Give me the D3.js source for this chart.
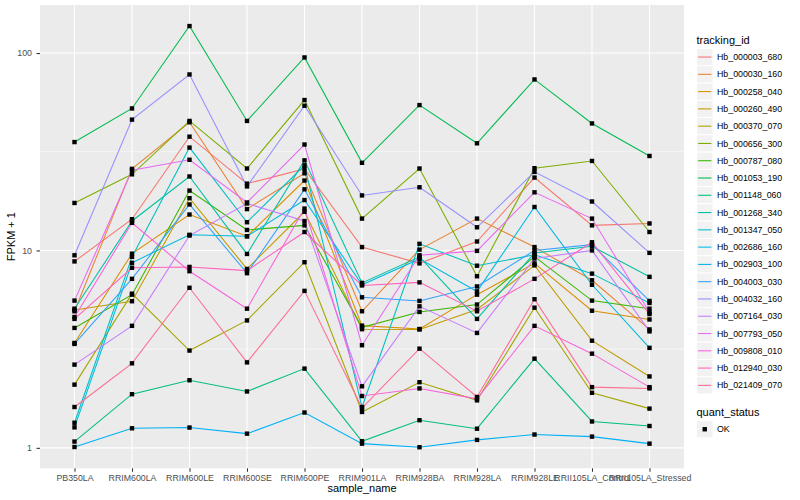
<!DOCTYPE html>
<html>
<head>
<meta charset="utf-8">
<script src="https://cdn.jsdelivr.net/npm/d3@7"></script>
<style>
  body { margin: 0; background: #fff; }
  text { font-family: "Liberation Sans", Arial, Helvetica, sans-serif; }
</style>
</head>
<body>
<div id="chart"></div>
<script>
// sample names on the x axis
const samples = ["PB350LA", "RRIM600LA", "RRIM600LE", "RRIM600SE", "RRIM600PE", "RRIM901LA",
  "RRIM928BA", "RRIM928LA", "RRIM928LE", "RRII105LA_Control", "RRII105LA_Stressed"];

const trackingIds = ["Hb_000003_680", "Hb_000030_160", "Hb_000258_040", "Hb_000260_490", "Hb_000370_070",
  "Hb_000656_300", "Hb_000787_080", "Hb_001053_190", "Hb_001148_060", "Hb_001268_340",
  "Hb_001347_050", "Hb_002686_160", "Hb_002903_100", "Hb_004003_030", "Hb_004032_160",
  "Hb_007164_030", "Hb_007793_050", "Hb_009808_010", "Hb_012940_030", "Hb_021409_070"];

// FPKM + 1, one array per gene, in sample order
const hb000003_680 = [8.8, 14.4, 37.7, 21.8, 25.9, 10.4, 8.6, 11.1, 23.4, 13.4, 13.7];
const hb000030_160 = [4.92, 25.9, 44.6, 16.2, 24.6, 4.92, 10.1, 14.5, 10.4, 7.06, 3.98];
const hb000258_040 = [3.40, 9.63, 15.2, 11.8, 22.6, 4.16, 4.0, 5.97, 8.6, 4.95, 4.47];
const hb000260_490 = [4.99, 5.53, 18.4, 8.06, 15.7, 3.99, 3.98, 5.02, 8.4, 3.49, 2.30];
const hb000370_070 = [2.09, 6.04, 3.11, 4.42, 8.72, 1.52, 2.15, 1.74, 5.13, 1.9, 1.58];
const hb000656_300 = [17.4, 24.3, 45.3, 26.0, 57.8, 14.5, 26.0, 7.4, 26.1, 28.4, 12.4];
const hb000787_080 = [4.05, 5.97, 20.1, 12.7, 13.4, 4.08, 4.88, 5.32, 9.3, 5.57, 5.07];
const hb001053_190 = [35.4, 52.4, 137, 45.3, 95, 27.8, 54.5, 34.9, 73.5, 44, 30.1];
const hb001148_060 = [1.076, 1.87, 2.20, 1.93, 2.52, 1.08, 1.38, 1.25, 2.83, 1.36, 1.29];
const hb001268_340 = [5.07, 14.1, 23.7, 9.6, 28.6, 6.85, 9.28, 4.5, 9.7, 10.5, 7.35];
const hb001347_050 = [1.34, 9.28, 33.2, 13.9, 27.0, 1.61, 10.8, 8.37, 9.5, 7.63, 5.42];
const hb002686_160 = [1.27, 8.66, 12.0, 11.8, 18.0, 6.7, 9.06, 6.2, 16.6, 6.7, 3.21];
const hb002903_100 = [1.01, 1.256, 1.267, 1.18, 1.51, 1.05, 1.007, 1.097, 1.168, 1.14, 1.05];
const hb004003_030 = [3.36, 7.18, 17.1, 7.67, 20.4, 5.79, 5.55, 6.57, 10.0, 10.7, 5.55];
const hb004032_160 = [9.45, 46, 77.9, 21.1, 54.1, 19.0, 20.9, 13.1, 25.0, 17.7, 9.72];
const hb007164_030 = [2.64, 4.15, 11.9, 17.3, 14.1, 2.05, 5.21, 3.82, 9.1, 10.0, 3.89];
const hb007793_050 = [5.57, 25.5, 28.8, 17.5, 34.4, 3.31, 9.45, 9.95, 19.7, 14.5, 4.86];
const hb009808_010 = [4.6, 13.8, 7.85, 5.07, 16.3, 1.83, 2.0, 1.77, 4.15, 3.0, 2.03];
const hb012940_030 = [4.5, 8.17, 8.25, 7.9, 12.4, 6.65, 6.89, 4.92, 7.18, 11.0, 4.76];
const hb021409_070 = [1.61, 2.68, 6.47, 2.71, 6.24, 1.59, 3.18, 1.81, 5.66, 2.03, 2.0];

const yTicks = [1, 10, 100];
const yTickLabels = ["1", "10", "100"];

const seriesValues = [hb000003_680, hb000030_160, hb000258_040, hb000260_490, hb000370_070,
  hb000656_300, hb000787_080, hb001053_190, hb001148_060, hb001268_340,
  hb001347_050, hb002686_160, hb002903_100, hb004003_030, hb004032_160,
  hb007164_030, hb007793_050, hb009808_010, hb012940_030, hb021409_070];

// ggplot default hue palette for 20 levels
const palette = ["#F8766D", "#EA8331", "#D89000", "#C09B00", "#A3A500", "#7CAE00", "#39B600", "#00BB4E",
  "#00BF7D", "#00C1A3", "#00BFC4", "#00BAE0", "#00B0F6", "#35A2FF", "#9590FF", "#C77CFF",
  "#E76BF3", "#FA62DB", "#FF62BC", "#FF6C91"];

const series = trackingIds.map((id, i) => ({
  id,
  values: samples.map((s, j) => ({ sample: s, v: seriesValues[i][j] }))
}));

const W = 800, H = 500;
const panel = { left: 40, top: 5, right: 684, bottom: 468.3 };

const svg = d3.select('#chart').append('svg')
  .attr('width', W).attr('height', H);

const x = d3.scalePoint()
  .domain(samples)
  .range([panel.left, panel.right])
  .padding(0.6);

const allVals = seriesValues.flat();
const lo = Math.log10(d3.min(allVals)), hi = Math.log10(d3.max(allVals));
const pad = (hi - lo) * 0.05;
const y = d3.scaleLog()
  .domain([Math.pow(10, lo - pad), Math.pow(10, hi + pad)])
  .range([panel.bottom, panel.top]);

const color = d3.scaleOrdinal().domain(trackingIds).range(palette);

// panel background
svg.append('rect')
  .attr('x', panel.left).attr('y', panel.top)
  .attr('width', panel.right - panel.left).attr('height', panel.bottom - panel.top)
  .attr('fill', '#EBEBEB');

// minor grid at half decades
const minor = [Math.sqrt(10), Math.sqrt(1000)];
svg.append('g').selectAll('line').data(minor).enter().append('line')
  .attr('x1', panel.left).attr('x2', panel.right)
  .attr('y1', d => y(d)).attr('y2', d => y(d))
  .attr('stroke', '#fff').attr('stroke-width', 0.55);

svg.append('g').selectAll('line').data(yTicks).enter().append('line')
  .attr('x1', panel.left).attr('x2', panel.right)
  .attr('y1', d => y(d)).attr('y2', d => y(d))
  .attr('stroke', '#fff').attr('stroke-width', 1.1);

svg.append('g').selectAll('line').data(samples).enter().append('line')
  .attr('x1', d => x(d)).attr('x2', d => x(d))
  .attr('y1', panel.top).attr('y2', panel.bottom)
  .attr('stroke', '#fff').attr('stroke-width', 1.1);

// lines
const line = d3.line().x(d => x(d.sample)).y(d => y(d.v));
svg.append('g').selectAll('path').data(series).enter().append('path')
  .attr('d', d => line(d.values))
  .attr('fill', 'none')
  .attr('stroke', d => color(d.id))
  .attr('stroke-width', 1.07);

// points
const pts = series.flatMap(s => s.values);
svg.append('g').selectAll('rect').data(pts).enter().append('rect')
  .attr('x', d => x(d.sample) - 2.2).attr('y', d => y(d.v) - 2.2)
  .attr('width', 4.4).attr('height', 4.4)
  .attr('fill', '#000');

// axes
const yAxis = svg.append('g')
  .attr('transform', `translate(${panel.left},0)`)
  .call(d3.axisLeft(y).tickValues(yTicks).tickFormat((d, i) => yTickLabels[i]).tickSize(3.5).tickPadding(4.5));
const xAxis = svg.append('g')
  .attr('transform', `translate(0,${panel.bottom})`)
  .call(d3.axisBottom(x).tickSize(3.5).tickPadding(2.5));

[yAxis, xAxis].forEach(a => {
  a.select('.domain').remove();
  a.selectAll('.tick line').attr('stroke', '#333333').attr('stroke-width', 1.07);
  a.selectAll('.tick text').attr('fill', '#4D4D4D').attr('font-size', '8.8px')
    .attr('font-family', '"Liberation Sans", Arial, sans-serif');
});

// axis titles
svg.append('text')
  .attr('x', (panel.left + panel.right) / 2).attr('y', 492)
  .attr('text-anchor', 'middle').attr('font-size', '11px').attr('fill', '#000')
  .text('sample_name');

svg.append('text')
  .attr('transform', `translate(15,${(panel.top + panel.bottom) / 2}) rotate(-90)`)
  .attr('text-anchor', 'middle').attr('font-size', '11px').attr('fill', '#000')
  .text('FPKM + 1');

// legend: tracking_id
const lg = svg.append('g').attr('transform', 'translate(696.5,0)');
lg.append('text').attr('x', 0).attr('y', 44).attr('font-size', '11px').attr('fill', '#000')
  .text('tracking_id');

const keyH = 17.28, keyTop = 48.4;
const keys = lg.selectAll('g.key').data(trackingIds).enter().append('g')
  .attr('class', 'key')
  .attr('transform', (d, i) => `translate(0,${keyTop + i * keyH})`);
keys.append('rect')
  .attr('width', 16.5).attr('height', keyH)
  .attr('fill', '#F2F2F2').attr('stroke', '#fff').attr('stroke-width', 1);
keys.append('line')
  .attr('x1', 1.6).attr('x2', 14.9)
  .attr('y1', keyH / 2).attr('y2', keyH / 2)
  .attr('stroke', d => color(d)).attr('stroke-width', 1.07);
keys.append('text')
  .attr('x', 20.5).attr('y', keyH / 2 + 3.1)
  .attr('font-size', '8.8px').attr('fill', '#000')
  .text(d => d);

// legend: quant_status
lg.append('text').attr('x', 0).attr('y', 416.3).attr('font-size', '11px').attr('fill', '#000')
  .text('quant_status');
const ok = lg.append('g').attr('transform', 'translate(0,420.6)');
ok.append('rect').attr('width', 16.5).attr('height', keyH)
  .attr('fill', '#F2F2F2').attr('stroke', '#fff');
ok.append('rect').attr('x', 8.25 - 2.2).attr('y', keyH / 2 - 2.2)
  .attr('width', 4.4).attr('height', 4.4).attr('fill', '#000');
ok.append('text').attr('x', 20.5).attr('y', keyH / 2 + 3.1)
  .attr('font-size', '8.8px').attr('fill', '#000').text('OK');
</script>
</body>
</html>
